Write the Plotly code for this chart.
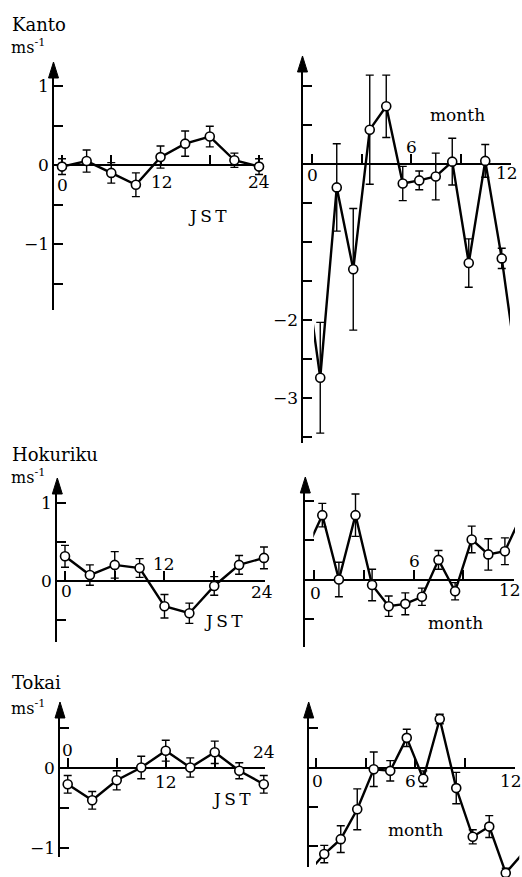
import plotly.graph_objects as go

W, H = 522, 877
FONT = "DejaVu Serif"

# ---------------- data ----------------
jst_hours = [0, 3, 6, 9, 12, 15, 18, 21, 24]
months = [1, 2, 3, 4, 5, 6, 7, 8, 9, 10, 11, 12]

kanto_jst = [-0.02, 0.05, -0.10, -0.25, 0.10, 0.27, 0.36, 0.06, -0.02]
kanto_jst_err = [0.10, 0.14, 0.13, 0.15, 0.14, 0.16, 0.13, 0.09, 0.10]
kanto_mon = [-2.74, -0.30, -1.35, 0.44, 0.74, -0.25, -0.21, -0.16, 0.03, -1.27, 0.04, -1.21]
kanto_mon_err = [0.71, 0.56, 0.78, 0.70, 0.40, 0.22, 0.12, 0.30, 0.30, 0.31, 0.21, 0.13]

hokuriku_jst = [0.31, 0.07, 0.20, 0.16, -0.33, -0.42, -0.07, 0.20, 0.29]
hokuriku_jst_err = [0.14, 0.13, 0.17, 0.12, 0.15, 0.13, 0.12, 0.12, 0.14]
hokuriku_mon = [0.82, 0.00, 0.82, -0.07, -0.34, -0.31, -0.22, 0.25, -0.15, 0.51, 0.32, 0.36]
hokuriku_mon_err = [0.15, 0.22, 0.27, 0.20, 0.13, 0.14, 0.11, 0.12, 0.11, 0.17, 0.20, 0.17]

tokai_jst = [-0.20, -0.40, -0.15, 0.01, 0.22, 0.01, 0.20, -0.03, -0.20]
tokai_jst_err = [0.11, 0.11, 0.12, 0.14, 0.13, 0.12, 0.14, 0.10, 0.11]
tokai_mon = [-1.10, -0.91, -0.53, -0.02, -0.04, 0.38, -0.14, 0.62, -0.26, -0.88, -0.75, -1.34]
tokai_mon_err = [0.11, 0.17, 0.26, 0.22, 0.13, 0.11, 0.10, 0.06, 0.20, 0.09, 0.14, 0.06]

regions = ["Kanto", "Hokuriku", "Tokai"]
jst_ticks = [0, 6, 12, 18, 24]
month_ticks = [0, 3, 6, 9, 12]

# ---------------- panel geometry (pixels) ----------------
panels = [
    dict(kind="jst", vals=kanto_jst, errs=kanto_jst_err,
         ax=53.5, top=62, bottom=310, right=260.5, x0=62, sx=8.21, y0=165, sy=79,
         yticks=[1, 0.5, 0, -0.5, -1, -1.5], ylab={1: "1", 0: "0", -1: "\u22121"},
         xlab=[(0, "0", -20), (12.2, "12", -17), (24, "24", -17)],
         atitle=("J\u2009S\u2009T", 17.7, -0.64)),
    dict(kind="mon", vals=kanto_mon, errs=kanto_mon_err,
         ax=302.5, top=56, bottom=443, right=510.5, x0=312, sx=16.5, y0=164, sy=78,
         clip=(314, 510),
         yticks=[1, 0.5, 0, -0.5, -1, -1.5, -2, -2.5, -3, -3.5], ylab={-2: "\u22122", -3: "\u22123"},
         xlab=[(0, "0", -11), (6, "6", 17), (11.8, "12", -9)],
         atitle=("month", 8.79, 0.63)),
    dict(kind="jst", vals=hokuriku_jst, errs=hokuriku_jst_err,
         ax=57.3, top=478, bottom=642, right=264.5, x0=65, sx=8.29, y0=580.5, sy=78,
         yticks=[1, 0.5, 0, -0.5], ylab={1: "1", 0: "0"},
         xlab=[(0.2, "0", -10), (12, "12", 17), (23.8, "24", -11)],
         atitle=("J\u2009S\u2009T", 19.1, -0.52)),
    dict(kind="mon", vals=hokuriku_mon, errs=hokuriku_mon_err,
         ax=305.3, top=477, bottom=647, right=513.7, x0=314, sx=16.6, y0=579.5, sy=78.5,
         clip=(313.3, 515),
         yticks=[1, 0.5, 0, -0.5], ylab={},
         xlab=[(0.1, "0", -13), (6.05, "6", 19), (11.8, "12", -10)],
         atitle=("month", 8.55, -0.56)),
    dict(kind="jst", vals=tokai_jst, errs=tokai_jst_err,
         ax=60, top=702, bottom=857, right=264.5, x0=67.7, sx=8.17, y0=768.3, sy=80,
         yticks=[0.5, 0, -0.5, -1], ylab={0: "0", -1: "\u22121"},
         xlab=[(0, "0", 18), (12, "12", -14), (24, "24", 16)],
         atitle=("J\u2009S\u2009T", 20.1, -0.38)),
    dict(kind="mon", vals=tokai_mon, errs=tokai_mon_err,
         ax=308.7, top=702, bottom=867, right=514.5, x0=316, sx=16.5, y0=767.7, sy=78.5,
         clip=(316, 519.3),
         yticks=[0.5, 0, -0.5, -1], ylab={},
         xlab=[(0.1, "0", -13), (5.7, "6", -13), (11.8, "12", -13)],
         atitle=("month", 6.06, -0.79)),
]

titles = [("Kanto", 24, 46), ("Hokuriku", 454, 476), ("Tokai", 682, 707)]

fig = go.Figure()
layout = dict(width=W, height=H, margin=dict(l=0, r=0, t=0, b=0, pad=0),
              paper_bgcolor="white", plot_bgcolor="rgba(0,0,0,0)",
              showlegend=False, font=dict(family=FONT, size=17, color="black"))
annotations = []
shapes = []


def ax_name(kind, i):
    return (kind if i == 1 else kind + str(i))


for k, p in enumerate(panels):
    fi = k + 1          # frame axes index
    di = k + 7          # data axes index
    fx, fy = ax_name("xaxis", fi), ax_name("yaxis", fi)
    dx, dy = ax_name("xaxis", di), ax_name("yaxis", di)
    fxr, fyr = ("x" if fi == 1 else "x%d" % fi), ("y" if fi == 1 else "y%d" % fi)
    dxr, dyr = "x%d" % di, "y%d" % di

    x0, sx, y0, sy = p["x0"], p["sx"], p["y0"], p["sy"]
    ytop_line = p["top"] + 8
    xticks = jst_ticks if p["kind"] == "jst" else month_ticks
    xmin = (p["ax"] - x0) / sx

    layout[fx] = dict(domain=[p["ax"] / W, p["right"] / W],
                      range=[xmin, (p["right"] - x0) / sx],
                      anchor="free", position=1 - y0 / H,
                      showline=True, linewidth=2, linecolor="black",
                      ticks="inside", ticklen=9, tickwidth=1.6, tickcolor="black",
                      tickvals=xticks, showticklabels=False,
                      showgrid=False, zeroline=False, fixedrange=True)
    layout[fy] = dict(domain=[1 - p["bottom"] / H, 1 - ytop_line / H],
                      range=[(y0 - p["bottom"]) / sy, (y0 - ytop_line) / sy],
                      anchor=fxr, side="left",
                      showline=True, linewidth=2, linecolor="black",
                      ticks="inside", ticklen=9, tickwidth=1.6, tickcolor="black",
                      tickvals=p["yticks"], showticklabels=False,
                      showgrid=False, zeroline=False, fixedrange=True)

    # y tick labels (only some ticks are labelled in the original)
    for yv, txt in p["ylab"].items():
        annotations.append(dict(x=xmin, y=yv, xref=fxr, yref=fyr, text=txt,
                                showarrow=False, xanchor="right", yanchor="middle",
                                xshift=-3, font=dict(family=FONT, size=17)))

    # data axes (invisible, used to clip the lines like the original)
    if p["kind"] == "mon":
        cl, cr = p["clip"]
        xs = [m - 0.5 for m in months]
        line_x = [xs[0] - 1] + xs + [xs[-1] + 1]
        line_y = [p["vals"][-1]] + p["vals"] + [p["vals"][0]]
    else:
        cl, cr = p["ax"], p["right"] + 12
        xs = jst_hours
        line_x, line_y = xs, p["vals"]
    dtop, dbot = p["top"], min(p["bottom"] + 10, H)
    layout[dx] = dict(domain=[cl / W, cr / W], range=[(cl - x0) / sx, (cr - x0) / sx],
                      anchor=dyr, showline=False, showgrid=False, zeroline=False,
                      showticklabels=False, ticks="", fixedrange=True)
    layout[dy] = dict(domain=[1 - dbot / H, 1 - dtop / H],
                      range=[(y0 - dbot) / sy, (y0 - dtop) / sy],
                      anchor=dxr, showline=False, showgrid=False, zeroline=False,
                      showticklabels=False, ticks="", fixedrange=True)

    fig.add_trace(go.Scatter(x=line_x, y=line_y, mode="lines",
                             line=dict(color="black", width=2.4),
                             xaxis=dxr, yaxis=dyr, hoverinfo="skip"))
    fig.add_trace(go.Scatter(x=xs, y=p["vals"], mode="markers",
                             marker=dict(symbol="circle", size=9, color="white",
                                         line=dict(color="black", width=1.6)),
                             error_y=dict(type="data", array=p["errs"], visible=True,
                                          color="black", thickness=1.4, width=4),
                             cliponaxis=False, xaxis=dxr, yaxis=dyr))

    # arrow head at the top of the y axis
    ax_p = p["ax"] / W
    shapes.append(dict(type="path", xref="paper", yref="paper",
                       path="M %f,%f L %f,%f L %f,%f Z" % (
                           ax_p, 1 - p["top"] / H,
                           (p["ax"] - 5) / W, 1 - (p["top"] + 16) / H,
                           (p["ax"] + 5) / W, 1 - (p["top"] + 16) / H),
                       fillcolor="black", line=dict(color="black", width=1)))

    # x tick labels (placed above or below the axis as in the original)
    for xv, txt, shift in p["xlab"]:
        annotations.append(dict(x=xv, y=0, xref=fxr, yref=fyr, text=txt,
                                showarrow=False, yshift=shift, xanchor="center",
                                yanchor="middle", font=dict(family=FONT, size=17)))
    t, tx, ty = p["atitle"]
    annotations.append(dict(x=tx, y=ty, xref=fxr, yref=fyr, text=t, showarrow=False,
                            xanchor="center", yanchor="middle",
                            font=dict(family=FONT, size=17)))

for (name, ty, uy) in titles:
    annotations.append(dict(x=10 / W, y=1 - ty / H, xref="paper", yref="paper",
                            text=name, showarrow=False, xanchor="left", yanchor="middle",
                            font=dict(family=FONT, size=18)))
    annotations.append(dict(x=9 / W, y=1 - uy / H, xref="paper", yref="paper",
                            text="ms<sup>-1</sup>", showarrow=False, xanchor="left",
                            yanchor="middle", font=dict(family=FONT, size=16)))

layout["annotations"] = annotations
layout["shapes"] = shapes
fig.update_layout(**layout)
fig.write_html("out.html",
               config={"displayModeBar": False},
               post_script="document.body.style.margin='0px';"
                           "document.body.style.padding='0px';"
                           "document.body.style.overflow='hidden';")
